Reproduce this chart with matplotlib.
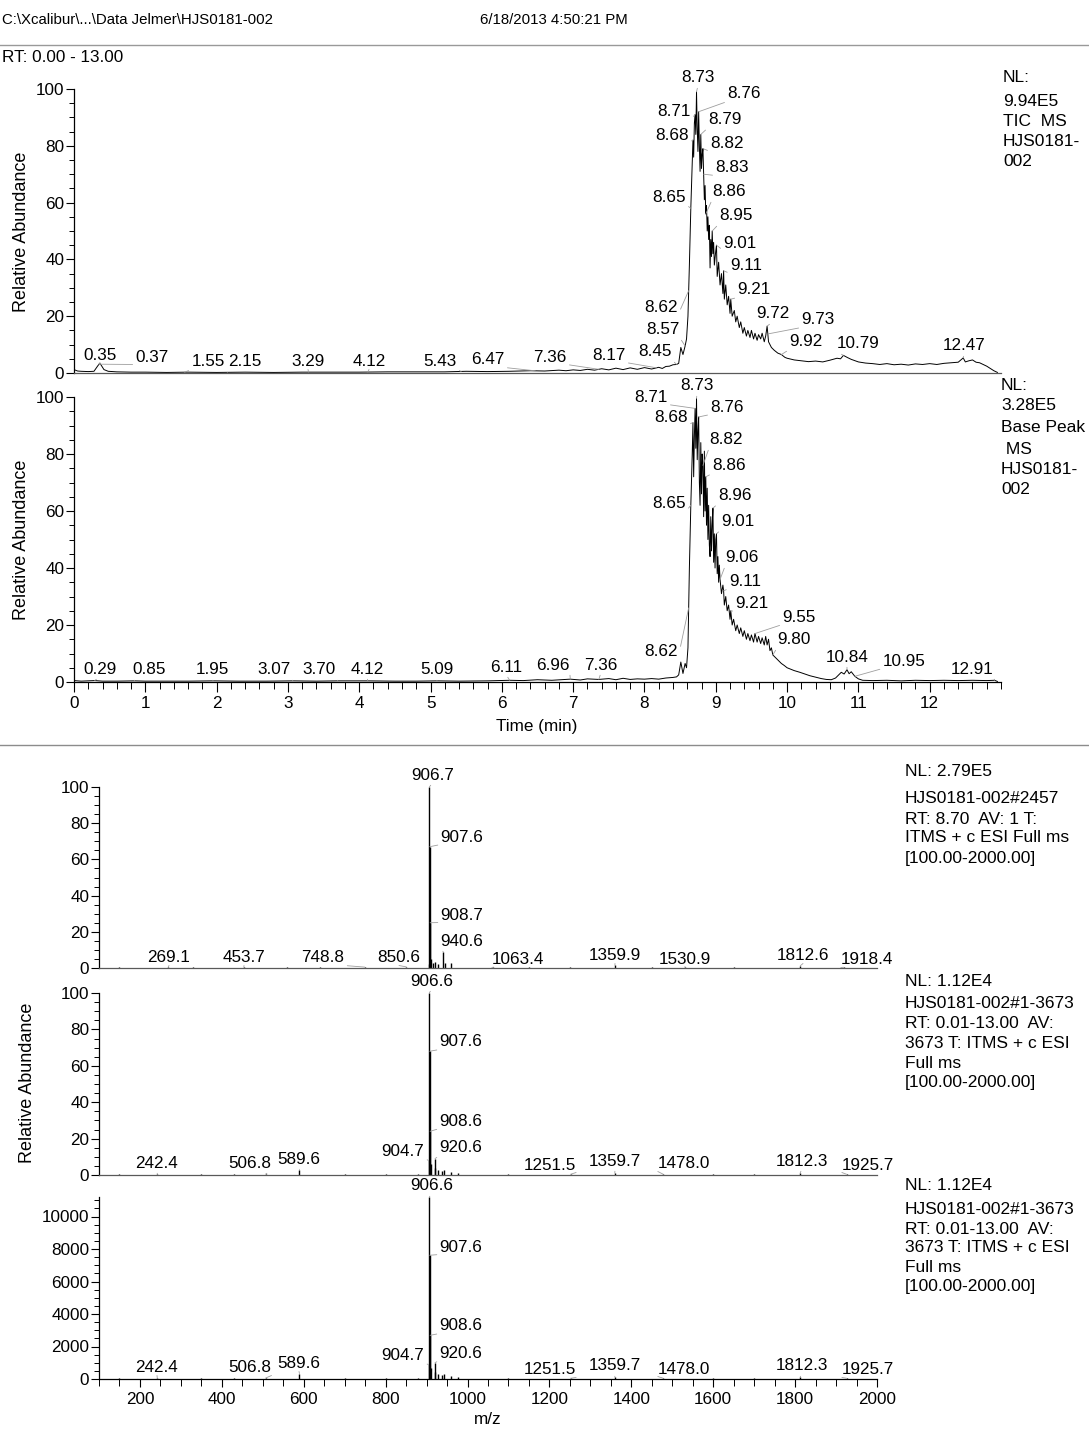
import numpy as np
import matplotlib
matplotlib.use("Agg")
import matplotlib.pyplot as plt
from matplotlib.ticker import MultipleLocator, FixedLocator

plt.rcParams['font.family'] = ['Liberation Sans', 'DejaVu Sans']

# ---------------- DATA ----------------
# TIC chromatogram (time min, relative abundance %)
tic_points = [
    (0.00, 1.2), (0.05, 0.7), (0.10, 0.6), (0.20, 0.5), (0.28, 0.6), (0.33, 2.4), (0.36, 3.4),
    (0.38, 2.8), (0.42, 1.2), (0.48, 0.6), (0.60, 0.4), (0.80, 0.3), (1.00, 0.3), (1.30, 0.2),
    (1.60, 0.3), (2.00, 0.2), (2.40, 0.3), (2.80, 0.2), (3.20, 0.3), (3.60, 0.3), (4.00, 0.3),
    (4.40, 0.4), (4.80, 0.4), (5.20, 0.4), (5.50, 0.6), (5.80, 0.5), (6.10, 0.6), (6.40, 0.8),
    (6.60, 0.7), (6.80, 1.0), (6.90, 0.8), (7.00, 1.1), (7.10, 0.9), (7.20, 1.3), (7.30, 1.0),
    (7.40, 1.5), (7.50, 1.1), (7.60, 1.7), (7.70, 1.2), (7.80, 1.8), (7.90, 1.3), (8.00, 1.9),
    (8.10, 1.4), (8.20, 2.0), (8.25, 1.6), (8.30, 2.3), (8.35, 2.4), (8.40, 2.9), (8.45, 3.0),
    (8.48, 3.4), (8.51, 9.0), (8.54, 6.5), (8.57, 9.5), (8.59, 12.0), (8.61, 20.0), (8.63, 38.0),
    (8.65, 58.0), (8.67, 74.0), (8.68, 82.0), (8.69, 76.0), (8.70, 88.0), (8.71, 91.0), (8.72, 84.0),
    (8.73, 99.0), (8.74, 86.0), (8.75, 78.0), (8.76, 92.0), (8.77, 80.0), (8.78, 71.0), (8.79, 84.0),
    (8.80, 72.0), (8.81, 77.0), (8.82, 79.0), (8.83, 70.0), (8.84, 61.0), (8.85, 66.0), (8.86, 56.0),
    (8.87, 59.0), (8.88, 50.0), (8.89, 55.0), (8.90, 47.0), (8.91, 52.0), (8.92, 37.0), (8.93, 47.0),
    (8.94, 41.0), (8.95, 50.0), (8.96, 42.0), (8.97, 46.0), (8.98, 38.0), (9.00, 43.0), (9.01, 45.0),
    (9.02, 34.0), (9.04, 39.0), (9.06, 31.0), (9.08, 35.0), (9.10, 28.0), (9.11, 36.0), (9.12, 26.0),
    (9.14, 31.0), (9.16, 24.0), (9.18, 27.0), (9.20, 21.0), (9.21, 26.0), (9.23, 20.0), (9.26, 22.0),
    (9.28, 18.0), (9.30, 20.0), (9.33, 16.0), (9.35, 18.0), (9.38, 14.0), (9.40, 16.0), (9.43, 13.0),
    (9.45, 15.0), (9.48, 12.5), (9.50, 15.0), (9.53, 12.0), (9.55, 14.0), (9.58, 11.5), (9.60, 13.5),
    (9.63, 12.0), (9.65, 14.0), (9.68, 11.0), (9.70, 13.0), (9.72, 16.5), (9.74, 11.0), (9.76, 10.0),
    (9.78, 9.0), (9.82, 8.0), (9.87, 7.0), (9.92, 6.5), (9.97, 5.5), (10.00, 5.2), (10.10, 4.6),
    (10.20, 4.3), (10.30, 4.0), (10.40, 4.2), (10.50, 3.9), (10.60, 4.5), (10.70, 5.2), (10.75, 5.0),
    (10.79, 6.2), (10.85, 5.4), (10.90, 4.8), (11.00, 3.9), (11.10, 3.5), (11.20, 3.3), (11.30, 3.0),
    (11.40, 3.3), (11.50, 2.9), (11.60, 3.1), (11.70, 2.8), (11.80, 3.2), (11.90, 3.0), (12.00, 3.3),
    (12.10, 3.0), (12.20, 3.4), (12.30, 3.6), (12.40, 3.8), (12.47, 5.3), (12.50, 3.9), (12.55, 4.3),
    (12.60, 4.6), (12.65, 3.8), (12.70, 3.6), (12.75, 3.0), (12.80, 2.4), (12.85, 1.6), (12.90, 0.8),
    (12.95, 0.2),
]

# Base peak chromatogram (time min, relative abundance %)
bp_points = [
    (0.00, 0.5), (0.10, 0.3), (0.29, 0.5), (0.40, 0.3), (0.60, 0.3), (0.85, 0.4), (1.00, 0.3),
    (1.30, 0.3), (1.60, 0.3), (1.95, 0.4), (2.30, 0.3), (2.70, 0.3), (3.07, 0.4), (3.40, 0.3),
    (3.70, 0.4), (4.12, 0.4), (4.50, 0.3), (4.80, 0.3), (5.09, 0.4), (5.40, 0.3), (5.80, 0.4),
    (6.11, 0.6), (6.30, 0.5), (6.50, 0.8), (6.70, 0.6), (6.96, 1.0), (7.10, 0.7), (7.20, 1.1),
    (7.36, 0.9), (7.50, 1.2), (7.60, 0.8), (7.70, 1.3), (7.80, 0.9), (7.90, 1.1), (8.00, 1.0),
    (8.10, 1.2), (8.20, 1.0), (8.30, 1.4), (8.40, 1.6), (8.45, 1.8), (8.48, 2.5), (8.51, 7.0),
    (8.54, 3.0), (8.57, 6.5), (8.59, 5.0), (8.61, 12.0), (8.63, 40.0), (8.65, 62.0), (8.67, 80.0),
    (8.68, 91.0), (8.69, 72.0), (8.70, 86.0), (8.71, 96.0), (8.72, 82.0), (8.73, 99.5), (8.74, 78.0),
    (8.75, 88.0), (8.76, 93.0), (8.77, 70.0), (8.78, 62.0), (8.79, 84.0), (8.80, 66.0), (8.81, 80.0),
    (8.82, 76.0), (8.83, 58.0), (8.84, 81.0), (8.85, 60.0), (8.86, 72.0), (8.87, 55.0), (8.88, 68.0),
    (8.89, 50.0), (8.90, 62.0), (8.91, 48.0), (8.92, 44.0), (8.93, 58.0), (8.94, 46.0), (8.95, 55.0),
    (8.96, 61.0), (8.97, 42.0), (8.98, 52.0), (8.99, 40.0), (9.00, 50.0), (9.01, 52.0), (9.02, 38.0),
    (9.03, 44.0), (9.04, 35.0), (9.05, 41.0), (9.06, 36.0), (9.08, 31.0), (9.10, 34.0), (9.11, 32.0),
    (9.12, 27.0), (9.14, 30.0), (9.16, 25.0), (9.18, 27.0), (9.20, 22.0), (9.21, 25.0), (9.23, 20.0),
    (9.25, 22.0), (9.28, 18.0), (9.30, 20.0), (9.33, 17.0), (9.35, 19.0), (9.38, 16.0), (9.40, 18.0),
    (9.43, 15.0), (9.45, 17.0), (9.48, 14.5), (9.50, 16.5), (9.53, 14.0), (9.55, 17.0), (9.58, 14.0),
    (9.60, 16.0), (9.63, 13.5), (9.65, 15.5), (9.68, 13.0), (9.70, 16.0), (9.72, 13.0), (9.74, 15.0),
    (9.76, 11.0), (9.78, 12.0), (9.80, 9.5), (9.84, 8.5), (9.88, 7.5), (9.92, 6.5), (9.96, 5.8),
    (10.00, 5.0), (10.05, 4.5), (10.10, 4.0), (10.18, 3.4), (10.25, 2.8), (10.32, 2.2), (10.40, 1.7),
    (10.48, 1.2), (10.55, 0.9), (10.62, 0.8), (10.68, 1.4), (10.72, 2.4), (10.76, 3.4), (10.80, 2.8),
    (10.84, 4.3), (10.87, 2.9), (10.90, 3.6), (10.95, 2.0), (11.00, 1.1), (11.06, 0.6), (11.20, 0.5),
    (11.40, 0.6), (11.60, 0.4), (11.80, 0.6), (12.00, 0.5), (12.20, 0.6), (12.40, 0.5), (12.60, 0.6),
    (12.80, 0.5), (12.91, 0.6), (12.95, 0.2),
]

tic_labels = ["0.35", "0.37", "1.55", "2.15", "3.29", "4.12", "5.43", "6.47", "7.36", "8.17",
              "8.45", "8.57", "8.62", "8.65", "8.68", "8.71", "8.73", "8.76", "8.79", "8.82",
              "8.83", "8.86", "8.95", "9.01", "9.11", "9.21", "9.72", "9.73", "9.92", "10.79", "12.47"]
bp_labels = ["0.29", "0.85", "1.95", "3.07", "3.70", "4.12", "5.09", "6.11", "6.96", "7.36",
             "8.62", "8.65", "8.68", "8.71", "8.73", "8.76", "8.82", "8.86", "8.96", "9.01",
             "9.06", "9.11", "9.21", "9.55", "9.80", "10.84", "10.95", "12.91"]

# Mass spectra (m/z, relative abundance %)
specA_mz = [150.0, 269.1, 330.0, 453.7, 560.0, 640.0, 748.8, 850.6, 904.7, 906.7, 907.6, 908.7,
            909.7, 915.6, 920.6, 928.6, 940.6, 944.6, 958.6, 1063.4, 1150.0, 1250.0, 1359.9,
            1450.0, 1530.9, 1650.0, 1812.6, 1918.4]
specA_int = [0.3, 0.5, 0.3, 0.4, 0.3, 0.3, 0.5, 0.6, 2.0, 100.0, 67.0, 25.0,
             5.0, 2.5, 3.5, 2.0, 9.0, 2.5, 2.5, 0.5, 0.3, 0.4, 1.5,
             0.3, 0.4, 0.3, 1.2, 0.4]

specB_mz = [150.0, 242.4, 350.0, 430.0, 506.8, 589.6, 700.0, 800.0, 880.0, 904.7, 906.6, 907.6,
            908.6, 909.6, 920.6, 921.6, 928.6, 936.6, 942.6, 958.6, 975.6, 1100.0, 1251.5,
            1359.7, 1478.0, 1600.0, 1700.0, 1812.3, 1925.7]
specB_int = [0.3, 0.4, 0.3, 0.3, 0.5, 3.0, 0.3, 0.4, 0.5, 8.0, 100.0, 68.0,
             24.0, 6.0, 9.0, 4.0, 2.5, 2.0, 3.0, 1.5, 1.0, 0.3, 0.4,
             1.0, 0.4, 0.3, 0.3, 1.0, 0.4]
specC_NL = 11200.0  # NL: 1.12E4, same averaged scan in absolute counts

specA_labels = ["906.7", "907.6", "908.7", "940.6", "269.1", "453.7", "748.8", "850.6",
                "1063.4", "1359.9", "1530.9", "1812.6", "1918.4"]
specB_labels = ["906.6", "907.6", "908.6", "904.7", "920.6", "242.4", "506.8", "589.6",
                "1251.5", "1359.7", "1478.0", "1812.3", "1925.7"]

chrom_xticks = list(range(0, 13))
pct_yticks = [0, 20, 40, 60, 80, 100]
abs_yticks = [0, 2000, 4000, 6000, 8000, 10000]
mz_xticks = list(range(200, 2001, 200))

# ---------------- LAYOUT ----------------
W, H = 1089, 1432
FS = 12.3
fig = plt.figure(figsize=(W / 100, H / 100), dpi=100)


def add_ax(left, right, top, bottom):
    return fig.add_axes([left / W, 1 - bottom / H, (right - left) / W, (bottom - top) / H])


def ftext(x, y, s, **kw):
    kw.setdefault('fontsize', FS)
    kw.setdefault('va', 'center')
    fig.text(x / W, 1 - y / H, s, **kw)


def style_axis(ax, show_x):
    for s in ['top', 'right']:
        ax.spines[s].set_visible(False)
    ax.spines['left'].set_linewidth(0.9)
    ax.spines['bottom'].set_linewidth(0.9)
    ax.spines['bottom'].set_color('0.35')
    ax.tick_params(axis='y', which='major', direction='out', length=6, width=0.8, labelsize=FS, pad=1)
    ax.tick_params(axis='y', which='minor', direction='out', length=3.5, width=0.7)
    if show_x:
        ax.spines['bottom'].set_color('black')
        ax.tick_params(axis='x', which='major', direction='out', length=7, width=0.8, labelsize=FS, pad=3)
        ax.tick_params(axis='x', which='minor', direction='out', length=5, width=0.7)
    else:
        ax.tick_params(axis='x', which='both', bottom=False, labelbottom=False)


def label_peaks(ax, labels, xs, ys, textpos):
    for lbl, x, y, (px, py) in zip(labels, xs, ys, textpos):
        ax_px = ax.transData.transform((x, y))
        if px > ax_px[0] + 10:
            rel = (0.0, 0.0)
        elif px < ax_px[0] - 10:
            rel = (1.0, 0.0)
        else:
            rel = (0.5, 0.0)
        ax.annotate(lbl, xy=(x, y), xycoords='data', xytext=(px, H - py),
                    textcoords='figure pixels', ha='center', va='center', fontsize=FS,
                    annotation_clip=False,
                    arrowprops=dict(arrowstyle='-', color='0.62', lw=0.6, shrinkA=0, shrinkB=0,
                                    relpos=rel))


# header
ftext(2, 20, "C:\\Xcalibur\\...\\Data Jelmer\\HJS0181-002", fontsize=10.8)
ftext(480, 20, "6/18/2013 4:50:21 PM", fontsize=10.8)
fig.add_artist(plt.Line2D([0, 1], [1 - 45 / H, 1 - 45 / H], color='0.6', lw=1.0))
fig.add_artist(plt.Line2D([0, 1], [1 - 745 / H, 1 - 745 / H], color='0.55', lw=1.0))
ftext(2, 58, "RT: 0.00 - 13.00")

# chromatograms
tic_t, tic_i = zip(*tic_points)
bp_t, bp_i = zip(*bp_points)

ax1 = add_ax(74, 1001, 89, 373)
ax1.plot(tic_t, tic_i, color='black', lw=0.7)
ax1.set_xlim(0, 13)
ax1.set_ylim(0, 100)
ax1.set_yticks(pct_yticks)
ax1.yaxis.set_minor_locator(MultipleLocator(5))
style_axis(ax1, False)

ax2 = add_ax(74, 1001, 397, 682)
ax2.plot(bp_t, bp_i, color='black', lw=0.7)
ax2.set_xlim(0, 13)
ax2.set_ylim(0, 100)
ax2.set_yticks(pct_yticks)
ax2.yaxis.set_minor_locator(MultipleLocator(5))
ax2.set_xticks(chrom_xticks)
ax2.xaxis.set_minor_locator(FixedLocator(np.arange(0, 13.01, 0.2)))
style_axis(ax2, True)

tic_pos = [(100, 355), (152, 357), (208, 362), (245, 362), (308, 362), (369, 362), (440, 362),
           (488, 360), (550, 357), (609, 355), (655, 352), (663, 330), (661, 308), (669, 197),
           (672, 135), (674, 112), (698, 78), (744, 94), (725, 120), (727, 144), (732, 168),
           (729, 192), (736, 216), (740, 243), (746, 266), (754, 290), (773, 314), (818, 320),
           (806, 342), (858, 344), (964, 346)]
tic_lx = [float(s) for s in tic_labels]
tic_ly = np.interp(tic_lx, tic_t, tic_i)
label_peaks(ax1, tic_labels, tic_lx, tic_ly, tic_pos)

bp_pos = [(100, 669), (149, 670), (212, 670), (274, 670), (319, 670), (367, 669), (437, 670),
          (506, 667), (553, 665), (601, 665), (661, 652), (669, 504), (671, 417), (651, 397),
          (697, 386), (727, 407), (726, 440), (729, 466), (735, 496), (738, 522), (742, 558),
          (745, 581), (752, 604), (799, 617), (794, 640), (847, 657), (904, 661), (972, 669)]
bp_lx = [float(s) for s in bp_labels]
bp_ly = np.interp(bp_lx, bp_t, bp_i)
label_peaks(ax2, bp_labels, bp_lx, bp_ly, bp_pos)

ftext(22, 232, "Relative Abundance", rotation=90, ha='center', fontsize=13)
ftext(22, 540, "Relative Abundance", rotation=90, ha='center', fontsize=13)
ftext(537, 727, "Time (min)", ha='center')

for y, s in zip([77, 101, 122, 142, 162], ["NL:", "9.94E5", "TIC  MS", "HJS0181-", "002"]):
    ftext(1003, y, s, fontsize=12.5)
for y, s in zip([385, 406, 428, 449, 469, 490], ["NL:", "3.28E5", "Base Peak", " MS", "HJS0181-", "002"]):
    ftext(1001, y, s, fontsize=12.5)

# spectra
specC_int = [v * specC_NL / 100.0 for v in specB_int]

axA = add_ax(99, 877, 787, 968)
axA.vlines(specA_mz, 0, specA_int, color='black', lw=1.0)
axA.set_xlim(100, 2000)
axA.set_ylim(0, 100)
axA.set_yticks(pct_yticks)
axA.yaxis.set_minor_locator(MultipleLocator(5))
style_axis(axA, False)

axB = add_ax(99, 877, 993, 1175)
axB.vlines(specB_mz, 0, specB_int, color='black', lw=1.0)
axB.set_xlim(100, 2000)
axB.set_ylim(0, 100)
axB.set_yticks(pct_yticks)
axB.yaxis.set_minor_locator(MultipleLocator(5))
style_axis(axB, False)

axC = add_ax(99, 877, 1197, 1379)
axC.vlines(specB_mz, 0, specC_int, color='black', lw=1.0)
axC.set_xlim(100, 2000)
axC.set_ylim(0, specC_NL)
axC.set_yticks(abs_yticks)
axC.yaxis.set_minor_locator(MultipleLocator(500))
axC.set_xticks(mz_xticks)
axC.xaxis.set_minor_locator(MultipleLocator(50))
style_axis(axC, True)
axC.tick_params(axis='x', which='major', length=6)

specA_pos = [(433, 775), (462, 837), (462, 915), (462, 941), (169, 958), (244, 958), (323, 958),
             (399, 958), (518, 960), (615, 956), (685, 959), (803, 956), (867, 960)]
a_x = [float(s) for s in specA_labels]
a_y = [specA_int[specA_mz.index(v)] for v in a_x]
label_peaks(axA, specA_labels, a_x, a_y, specA_pos)

specB_pos = [(432, 981), (461, 1042), (461, 1121), (403, 1151), (461, 1148), (157, 1163),
             (250, 1163), (299, 1159), (550, 1165), (615, 1161), (684, 1164), (802, 1161), (868, 1165)]
b_x = [float(s) for s in specB_labels]
b_y = [specB_int[specB_mz.index(v)] for v in b_x]
label_peaks(axB, specB_labels, b_x, b_y, specB_pos)

specC_pos = [(x, y + 205) for x, y in specB_pos]
c_y = [specC_int[specB_mz.index(v)] for v in b_x]
label_peaks(axC, specB_labels, b_x, c_y, specC_pos)

ftext(28, 1083, "Relative Abundance", rotation=90, ha='center', fontsize=13)
ftext(488, 1420, "m/z", ha='center')

blockA = ["NL: 2.79E5", "HJS0181-002#2457", "RT: 8.70  AV: 1 T:", "ITMS + c ESI Full ms", "[100.00-2000.00]"]
for y, s in zip([771, 799, 819, 838, 858], blockA):
    ftext(905, y, s, fontsize=12.5)
blockB = ["NL: 1.12E4", "HJS0181-002#1-3673", "RT: 0.01-13.00  AV:", "3673 T: ITMS + c ESI", "Full ms",
          "[100.00-2000.00]"]
for y, s in zip([981, 1004, 1024, 1043, 1063, 1082], blockB):
    ftext(905, y, s, fontsize=12.5)
for y, s in zip([1186, 1209, 1229, 1248, 1268, 1287], blockB):
    ftext(905, y, s, fontsize=12.5)

fig.savefig("out.png", dpi=100)
